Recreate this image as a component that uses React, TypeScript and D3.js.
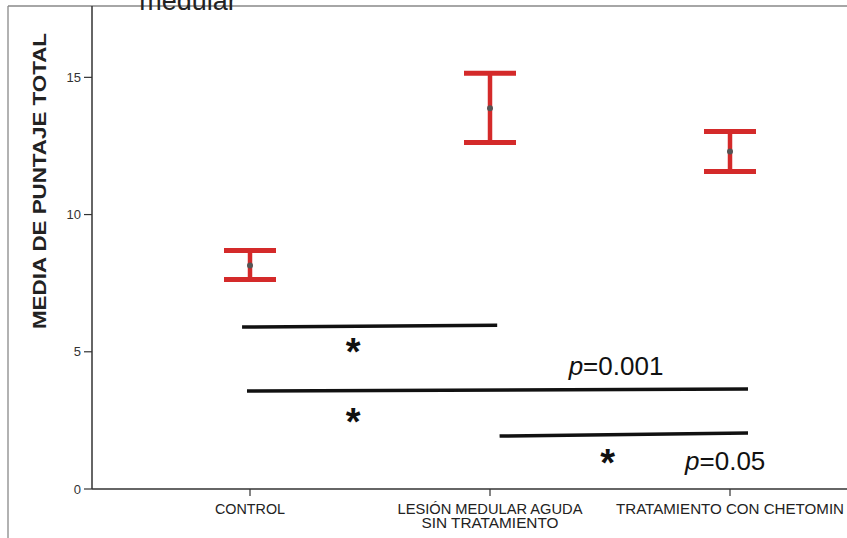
import React from "react";
import * as d3 from "d3";

const categories = ["CONTROL", "LESIÓN MEDULAR AGUDA|SIN TRATAMIENTO", "TRATAMIENTO CON CHETOMIN"];
const labelWidths = [[70], [185, 137], [228]];
const means = [8.14, 13.87, 12.3];
const upper = [8.69, 15.15, 13.03];
const lower = [7.63, 12.63, 11.57];
const yTicks = [0, 5, 10, 15];

// significance lines: start/end in category-index units, y in data units
const sigX1 = [-0.033, -0.0125, 1.04];
const sigX2 = [1.03, 2.075, 2.075];
const sigY1 = [5.9, 3.57, 1.93];
const sigY2 = [5.97, 3.64, 2.04];
const starX = [0.43, 0.43, 1.49];
const starY = [5.3, 2.75, 1.25];
const pLabels = ["0.001", "0.05"];
const pX = [1.525, 1.98];
const pY = [4.15, 0.69];

const W = 847, H = 538;

export default function App() {
  const y = d3.scaleLinear().domain([0, 17.6]).range([489, 6]);
  const xi = d3.scaleLinear().domain([0, 2]).range([250, 730]);
  const xp = d3.scalePoint<string>().domain(categories).range([250, 730]);
  const red = "#d42a2a";
  const capHalf = 26;
  return (
    <div style={{ position: "fixed", left: 0, top: 0 }}>
      <svg width={W} height={H} style={{ display: "block", background: "#fff" }}>
        {/* frame */}
        <line x1={8} x2={8} y1={6} y2={H} stroke="#999" strokeWidth={1.5} />
        <line x1={8} x2={W} y1={6} y2={6} stroke="#888" strokeWidth={1.5} />
        {/* title fragment */}
        <text x={188} y={10} textAnchor="middle" fontFamily="Liberation Sans, Arial, sans-serif" fontSize={27} fill="#222">medular</text>
        {/* y axis */}
        <line x1={92} x2={92} y1={6} y2={489} stroke="#333" strokeWidth={1.5} />
        {yTicks.map((t) => (
          <g key={t}>
            <line x1={84} x2={92} y1={y(t)} y2={y(t)} stroke="#333" strokeWidth={1.2} />
            <text x={81} y={y(t) + 4.5} textAnchor="end" fontFamily="Liberation Sans, Arial, sans-serif" fontSize={13} fill="#333">{t}</text>
          </g>
        ))}
        <text transform={`translate(46,${181}) rotate(-90)`} textAnchor="middle" fontFamily="Liberation Sans, Arial, sans-serif" fontWeight="bold" fontSize={18} textLength={296} lengthAdjust="spacingAndGlyphs" fill="#222">MEDIA DE PUNTAJE TOTAL</text>
        {/* x axis */}
        <line x1={92} x2={W} y1={489} y2={489} stroke="#333" strokeWidth={1.5} />
        {categories.map((c, ci) => {
          const lines = c.split("|");
          const x = xp(c)!;
          return (
            <g key={c}>
              <line x1={x} x2={x} y1={489} y2={496} stroke="#333" strokeWidth={1.2} />
              {lines.map((l, i) => (
                <text key={l} x={x} y={514 + i * 13.5} textAnchor="middle" fontFamily="Liberation Sans, Arial, sans-serif" fontSize={14.5} textLength={labelWidths[ci][i]} lengthAdjust="spacingAndGlyphs" fill="#222">{l}</text>
              ))}
            </g>
          );
        })}
        {/* error bars */}
        {categories.map((c, i) => {
          const x = xp(c)!;
          return (
            <g key={"eb" + i}>
              <line x1={x} x2={x} y1={y(upper[i])} y2={y(lower[i])} stroke={red} strokeWidth={4.5} />
              <line x1={x - capHalf} x2={x + capHalf} y1={y(upper[i])} y2={y(upper[i])} stroke={red} strokeWidth={5} />
              <line x1={x - capHalf} x2={x + capHalf} y1={y(lower[i])} y2={y(lower[i])} stroke={red} strokeWidth={5} />
              <circle cx={x} cy={y(means[i])} r={3} fill="#555" />
            </g>
          );
        })}
        {/* significance */}
        {sigX1.map((_, i) => (
          <line key={"s" + i} x1={xi(sigX1[i])} x2={xi(sigX2[i])} y1={y(sigY1[i])} y2={y(sigY2[i])} stroke="#111" strokeWidth={3.5} />
        ))}
        {starX.map((_, i) => (
          <text key={"st" + i} x={xi(starX[i])} y={y(starY[i]) + 21} textAnchor="middle" fontFamily="Liberation Sans, Arial, sans-serif" fontWeight="bold" fontSize={38} fill="#111">*</text>
        ))}
        {pLabels.map((p, i) => (
          <text key={"p" + i} x={xi(pX[i])} y={y(pY[i])} textAnchor="middle" fontFamily="Liberation Sans, Arial, sans-serif" fontSize={26} fill="#111">
            <tspan fontStyle="italic">p</tspan>={p}
          </text>
        ))}
      </svg>
    </div>
  );
}
